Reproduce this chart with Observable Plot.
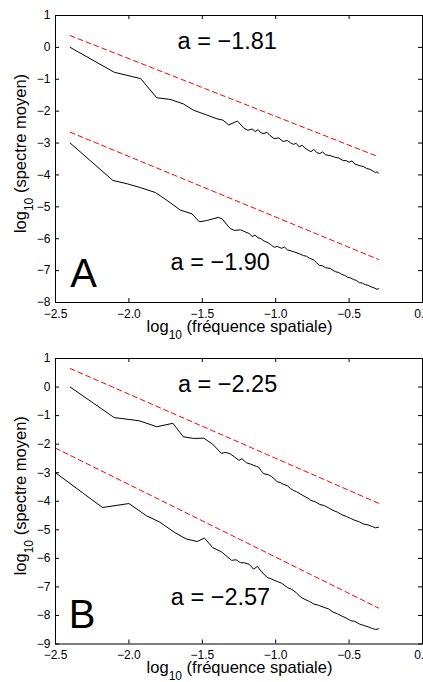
<!DOCTYPE html>
<html><head><meta charset="utf-8">
<script src="https://cdn.jsdelivr.net/npm/d3@7"></script>
<script src="https://cdn.jsdelivr.net/npm/@observablehq/plot@0.6"></script>
<style>
body{margin:0;background:#fff;}
#chart{width:423px;height:682px;overflow:hidden;background:#fff;}
#chart svg{display:block;}
</style></head><body><div id="chart"></div>
<script>
// ---------- data (log10 spatial frequency, log10 mean spectrum) ----------
const xTicks = [-2.5, -2, -1.5, -1, -0.5, 0];
const yTicksA = [1, 0, -1, -2, -3, -4, -5, -6, -7, -8];
const yTicksB = [1, 0, -1, -2, -3, -4, -5, -6, -7, -8, -9];

const spectrumA1 = [
  [-2.40,0.00],[-2.10,-0.78],[-1.92,-0.98],[-1.81,-1.58],[-1.72,-1.63],[-1.63,-1.77],
  [-1.56,-1.97],[-1.47,-2.12],[-1.40,-2.24],[-1.36,-2.28],[-1.32,-2.43],[-1.26,-2.31],
  [-1.22,-2.52],[-1.19,-2.60],[-1.16,-2.56],[-1.14,-2.64],[-1.12,-2.58],[-1.10,-2.68],
  [-1.08,-2.70],[-1.06,-2.66],[-1.04,-2.76],[-1.01,-2.86],[-0.98,-2.84],[-0.95,-2.95],
  [-0.92,-2.92],[-0.90,-2.99],[-0.88,-3.04],[-0.86,-3.01],[-0.84,-3.12],[-0.82,-3.07],
  [-0.80,-3.16],[-0.78,-3.22],[-0.76,-3.27],[-0.74,-3.20],[-0.72,-3.30],[-0.70,-3.33],
  [-0.68,-3.28],[-0.66,-3.37],[-0.63,-3.39],[-0.60,-3.44],[-0.57,-3.47],[-0.54,-3.55],
  [-0.52,-3.55],[-0.50,-3.60],[-0.48,-3.56],[-0.46,-3.66],[-0.44,-3.69],[-0.42,-3.72],
  [-0.40,-3.74],[-0.38,-3.80],[-0.36,-3.82],[-0.34,-3.87],[-0.32,-3.93],[-0.31,-3.90],[-0.30,-3.94]
];
const spectrumA2 = [
  [-2.40,-3.00],[-2.11,-4.17],[-2.01,-4.28],[-1.92,-4.40],[-1.82,-4.55],[-1.74,-4.80],
  [-1.65,-5.10],[-1.57,-5.22],[-1.52,-5.47],[-1.47,-5.43],[-1.39,-5.33],[-1.365,-5.38],
  [-1.31,-5.68],[-1.28,-5.74],[-1.24,-5.72],[-1.21,-5.78],[-1.18,-5.84],[-1.16,-5.93],
  [-1.14,-5.89],[-1.12,-5.97],[-1.10,-6.00],[-1.08,-6.07],[-1.05,-6.13],[-1.03,-6.20],
  [-1.01,-6.27],[-0.99,-6.24],[-0.96,-6.30],[-0.94,-6.26],[-0.92,-6.35],[-0.89,-6.39],
  [-0.87,-6.42],[-0.84,-6.47],[-0.81,-6.53],[-0.79,-6.55],[-0.77,-6.61],[-0.74,-6.67],
  [-0.72,-6.76],[-0.70,-6.84],[-0.68,-6.85],[-0.66,-6.91],[-0.63,-6.93],[-0.61,-6.99],
  [-0.59,-7.04],[-0.57,-7.06],[-0.55,-7.12],[-0.53,-7.15],[-0.51,-7.21],[-0.49,-7.23],
  [-0.47,-7.28],[-0.45,-7.31],[-0.43,-7.38],[-0.41,-7.39],[-0.39,-7.44],[-0.37,-7.46],
  [-0.35,-7.51],[-0.33,-7.54],[-0.31,-7.59],[-0.30,-7.56]
];
const fitA1 = [[-2.40,0.37],[-0.30,-3.43]];
const fitA2 = [[-2.40,-2.66],[-0.30,-6.65]];

const spectrumB1 = [
  [-2.40,0.00],[-2.10,-1.07],[-1.93,-1.18],[-1.81,-1.39],[-1.70,-1.27],[-1.63,-1.74],
  [-1.56,-1.80],[-1.49,-1.79],[-1.43,-2.00],[-1.37,-2.32],[-1.34,-2.29],[-1.31,-2.34],
  [-1.28,-2.45],[-1.25,-2.57],[-1.23,-2.51],[-1.20,-2.65],[-1.17,-2.70],[-1.15,-2.74],
  [-1.13,-2.78],[-1.115,-2.81],[-1.10,-2.93],[-1.08,-3.04],[-1.05,-3.07],[-1.03,-3.13],
  [-1.01,-3.21],[-0.99,-3.32],[-0.97,-3.34],[-0.95,-3.40],[-0.92,-3.46],[-0.90,-3.55],
  [-0.88,-3.62],[-0.86,-3.66],[-0.83,-3.75],[-0.80,-3.84],[-0.78,-3.89],[-0.76,-3.97],
  [-0.73,-4.02],[-0.70,-4.11],[-0.67,-4.15],[-0.64,-4.23],[-0.61,-4.32],[-0.58,-4.38],
  [-0.55,-4.47],[-0.52,-4.53],[-0.49,-4.60],[-0.46,-4.67],[-0.43,-4.72],[-0.40,-4.80],
  [-0.37,-4.83],[-0.34,-4.89],[-0.32,-4.93],[-0.30,-4.91]
];
const spectrumB2 = [
  [-2.50,-3.00],[-2.18,-4.22],[-2.00,-4.08],[-1.88,-4.51],[-1.79,-4.73],[-1.69,-5.09],
  [-1.61,-5.32],[-1.535,-5.41],[-1.485,-5.29],[-1.43,-5.62],[-1.37,-5.77],[-1.30,-6.07],
  [-1.27,-6.05],[-1.24,-6.15],[-1.21,-6.16],[-1.18,-6.21],[-1.15,-6.38],[-1.125,-6.28],
  [-1.10,-6.45],[-1.06,-6.66],[-1.03,-6.72],[-0.99,-6.81],[-0.96,-6.87],[-0.92,-7.02],
  [-0.89,-7.09],[-0.86,-7.20],[-0.83,-7.36],[-0.80,-7.44],[-0.77,-7.51],[-0.74,-7.60],
  [-0.71,-7.64],[-0.67,-7.72],[-0.64,-7.77],[-0.61,-7.88],[-0.58,-7.94],[-0.55,-8.02],
  [-0.52,-8.09],[-0.49,-8.18],[-0.46,-8.21],[-0.43,-8.30],[-0.40,-8.35],[-0.37,-8.40],
  [-0.34,-8.46],[-0.32,-8.49],[-0.30,-8.47]
];
const fitB1 = [[-2.40,0.65],[-0.30,-4.07]];
const fitB2 = [[-2.50,-2.14],[-0.30,-7.74]];

const slopeLabelsA = [{x:-1.33, y:-0.04, t:"a = \u22121.81"}, {x:-1.378, y:-6.97, t:"a = \u22121.90"}];
const slopeLabelsB = [{x:-1.328, y:-0.17, t:"a = \u22122.25"}, {x:-1.376, y:-7.63, t:"a = \u22122.57"}];
const letterA = [{x:-2.40, y:-7.50, t:"A"}];
const letterB = [{x:-2.41, y:-8.45, t:"B"}];

const xLabelParts = ["log", "10", " (fr\u00e9quence spatiale)"];
const yLabelParts = ["log", "10", " (spectre moyen)"];

// ---------- drawing ----------
const FONT = "'Liberation Sans', Arial, Helvetica, sans-serif";
const W = 423, H = 341, ML = 55, MR = 1;

function label(s, parts, attrs) {
  const t = s.append("text").attr("text-anchor", "middle").attr("font-size", 16.5)
    .attr("fill", "#000").attr("font-family", FONT);
  for (const k in attrs) t.attr(k, attrs[k]);
  t.append("tspan").text(parts[0]);
  t.append("tspan").attr("dy", 7).attr("font-size", 12).text(parts[1]);
  t.append("tspan").attr("dy", -7).text(parts[2]);
}

function panel({series, fits, yDomain, yTicks, slopes, letter, marginTop, marginBottom}) {
  const ph = H - marginTop - marginBottom;
  const pw = W - ML - MR;
  const svg = Plot.plot({
    width: W, height: H, marginLeft: ML, marginRight: MR, marginTop, marginBottom,
    style: {fontFamily: FONT, fontSize: "12px", color: "#000", background: "#fff", overflow: "visible"},
    x: {domain: [-2.5, 0]},
    y: {domain: yDomain},
    marks: [
      Plot.axisX({ticks: xTicks, tickSize: 0, tickPadding: 6.5, label: null, fontSize: 12}),
      Plot.axisY({ticks: yTicks, tickSize: 0, tickPadding: 5, label: null, fontSize: 12}),
      Plot.ruleX(xTicks, {x: d => d, insetTop: ph - 4, stroke: "#000"}),
      Plot.ruleX(xTicks, {x: d => d, insetBottom: ph - 4, stroke: "#000"}),
      Plot.ruleY(yTicks, {y: d => d, insetRight: pw - 4, stroke: "#000"}),
      Plot.ruleY(yTicks, {y: d => d, insetLeft: pw - 4, stroke: "#000"}),
      ...fits.map(f => Plot.line(f, {x: d => d[0], y: d => d[1], stroke: "#ff0000", strokeWidth: 1, strokeDasharray: "5,3.5"})),
      ...series.map(s => Plot.line(s, {x: d => d[0], y: d => d[1], stroke: "#000", strokeWidth: 1})),
      Plot.text(slopes, {x: "x", y: "y", text: "t", fontSize: 23.5, textAnchor: "middle", lineAnchor: "bottom", fill: "#000"}),
      Plot.text(letter, {x: "x", y: "y", text: "t", fontSize: 40, textAnchor: "start", lineAnchor: "bottom", fill: "#000"}),
      Plot.frame({stroke: "#000", strokeWidth: 1})
    ]
  });
  const s = d3.select(svg);
  const plotBottom = H - marginBottom;
  label(s, xLabelParts, {x: ML + pw / 2 + 1, y: plotBottom + 29.5});
  label(s, yLabelParts, {transform: `translate(25.5,${marginTop + ph / 2 - 5}) rotate(-90)`});
  return svg;
}

const chart = document.getElementById("chart");
chart.appendChild(panel({
  series: [spectrumA1, spectrumA2], fits: [fitA1, fitA2], yDomain: [-8, 1], yTicks: yTicksA,
  slopes: slopeLabelsA, letter: letterA, marginTop: 15, marginBottom: 39
}));
chart.appendChild(panel({
  series: [spectrumB1, spectrumB2], fits: [fitB1, fitB2], yDomain: [-9, 1], yTicks: yTicksB,
  slopes: slopeLabelsB, letter: letterB, marginTop: 17, marginBottom: 38.5
}));
</script></body></html>
